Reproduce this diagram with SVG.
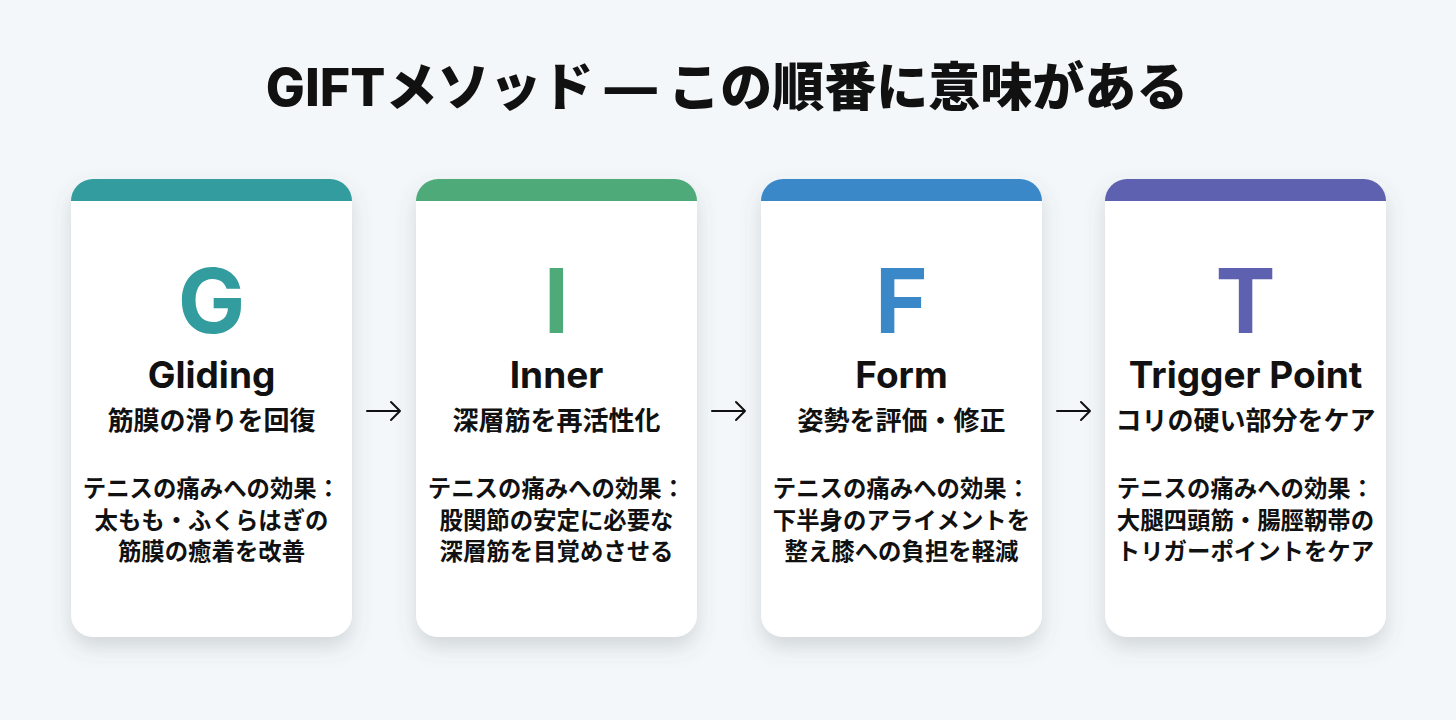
<svg xmlns="http://www.w3.org/2000/svg" width="1456" height="720" viewBox="0 0 1456 720">
<defs>
<filter id="sh" x="-20%" y="-20%" width="140%" height="140%">
<feDropShadow dx="0" dy="10" stdDeviation="10" flood-color="#5a6470" flood-opacity="0.22"/>
</filter>
<clipPath id="c1"><rect x="71" y="179" width="281" height="458" rx="22"/></clipPath>
<clipPath id="c2"><rect x="416" y="179" width="281" height="458" rx="22"/></clipPath>
<clipPath id="c3"><rect x="761" y="179" width="281" height="458" rx="22"/></clipPath>
<clipPath id="c4"><rect x="1105" y="179" width="281" height="458" rx="22"/></clipPath>
</defs>
<style>
text{font-family:"Inter","Noto Sans CJK JP",sans-serif;text-anchor:middle;fill:#111}
.title{font-size:52px;font-weight:800}
.big{font-size:90px;font-weight:700}
.name{font-size:37px;font-weight:700}
.sub{font-size:26px;font-weight:600;font-family:"Noto Sans CJK JP",sans-serif}
.eff{font-size:23.4px;font-weight:700;font-family:"Noto Sans CJK JP",sans-serif}
.card{fill:#fff;filter:url(#sh)}
.arr{stroke:#111;stroke-width:2;fill:none;stroke-linecap:round;stroke-linejoin:round}
</style>
<rect width="1456" height="720" fill="#F3F7F9"/>
<text class="title" x="727" y="106">GIFTメソッド — この順番に意味がある</text>

<g id="node-G">
<rect class="card" x="71" y="179" width="281" height="458" rx="22"/>
<rect x="71" y="179" width="281" height="22" fill="#339C9E" clip-path="url(#c1)"/>
<text class="big" x="211.5" y="333" style="fill:#339C9E">G</text>
<text class="name" x="211.5" y="388">Gliding</text>
<text class="sub" x="211.5" y="430">筋膜の滑りを回復</text>
<text class="eff" x="211.5" y="497">テニスの痛みへの効果：</text>
<text class="eff" x="211.5" y="529">太もも・ふくらはぎの</text>
<text class="eff" x="211.5" y="560">筋膜の癒着を改善</text>
</g>

<g id="node-I">
<rect class="card" x="416" y="179" width="281" height="458" rx="22"/>
<rect x="416" y="179" width="281" height="22" fill="#4FAA7A" clip-path="url(#c2)"/>
<text class="big" x="556.5" y="333" style="fill:#4FAA7A">I</text>
<text class="name" x="556.5" y="388">Inner</text>
<text class="sub" x="556.5" y="430">深層筋を再活性化</text>
<text class="eff" x="556.5" y="497">テニスの痛みへの効果：</text>
<text class="eff" x="556.5" y="529">股関節の安定に必要な</text>
<text class="eff" x="556.5" y="560">深層筋を目覚めさせる</text>
</g>

<g id="node-F">
<rect class="card" x="761" y="179" width="281" height="458" rx="22"/>
<rect x="761" y="179" width="281" height="22" fill="#3A88C8" clip-path="url(#c3)"/>
<text class="big" x="901.5" y="333" style="fill:#3A88C8">F</text>
<text class="name" x="901.5" y="388">Form</text>
<text class="sub" x="901.5" y="430">姿勢を評価・修正</text>
<text class="eff" x="901.5" y="497">テニスの痛みへの効果：</text>
<text class="eff" x="901.5" y="529">下半身のアライメントを</text>
<text class="eff" x="901.5" y="560">整え膝への負担を軽減</text>
</g>

<g id="node-T">
<rect class="card" x="1105" y="179" width="281" height="458" rx="22"/>
<rect x="1105" y="179" width="281" height="22" fill="#5E60B0" clip-path="url(#c4)"/>
<text class="big" x="1245.5" y="333" style="fill:#5E60B0">T</text>
<text class="name" x="1245.5" y="388">Trigger Point</text>
<text class="sub" x="1245.5" y="430">コリの硬い部分をケア</text>
<text class="eff" x="1245.5" y="497">テニスの痛みへの効果：</text>
<text class="eff" x="1245.5" y="529">大腿四頭筋・腸脛靭帯の</text>
<text class="eff" x="1245.5" y="560">トリガーポイントをケア</text>
</g>

<g id="connectors">
<path class="arr" d="M367 411 H400 M391 402 L400 411 L391 420"/>
<path class="arr" d="M712 411 H745 M736 402 L745 411 L736 420"/>
<path class="arr" d="M1057 411 H1090 M1081 402 L1090 411 L1081 420"/>
</g>
</svg>
